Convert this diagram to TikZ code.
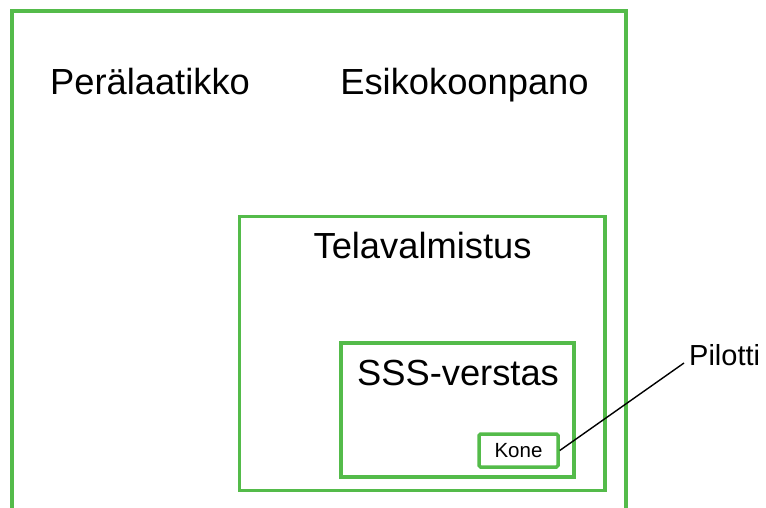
\documentclass[tikz,border=0pt]{standalone}
\usepackage{fontspec}
\setmainfont{Liberation Sans}
\definecolor{frame}{RGB}{84,187,74}
\tikzset{
  area/.style={draw=frame, line width=3.5pt},
  big/.style={font=\fontsize{36.3}{40}\selectfont, anchor=base, inner sep=0pt},
  small/.style={font=\fontsize{20.5}{24}\selectfont},
  callout/.style={draw=black, line width=1.4pt},
}
\begin{document}
\begin{tikzpicture}[x=1pt,y=-1pt]
  \useasboundingbox (0,0) rectangle (766,508);
  \clip (0,0) rectangle (766,508);
  % outer area, open at the bottom edge
  \draw[area] (12,520) -- (12,11) -- (626,11) -- (626,520);
  % nested areas
  \draw[area] (239.5,216.5) rectangle (605,490.5);
  \draw[area] (341,343) rectangle (574,477);
  % area titles
  \node[big] (pera) at (150,95) {Perälaatikko};
  \node[big] (esiko) at (464.5,95) {Esikokoonpano};
  \node[big] (tela) at (422.5,258) {Telavalmistus};
  \node[big] (sss) at (458,385) {SSS-verstas};
  % machine box and its callout
  \node[small, area, rounded corners=1.5pt, minimum width=79pt, minimum height=33pt, inner sep=0pt] (kone) at (518.5,450.5) {Kone};
  \node[font=\fontsize{29}{32}\selectfont, anchor=base west, inner sep=0pt] (pil) at (689,365) {Pilotti};
  \coordinate (pend) at (684,363);
  \draw[callout] (kone.east) -- (pend);
\end{tikzpicture}
\end{document}
